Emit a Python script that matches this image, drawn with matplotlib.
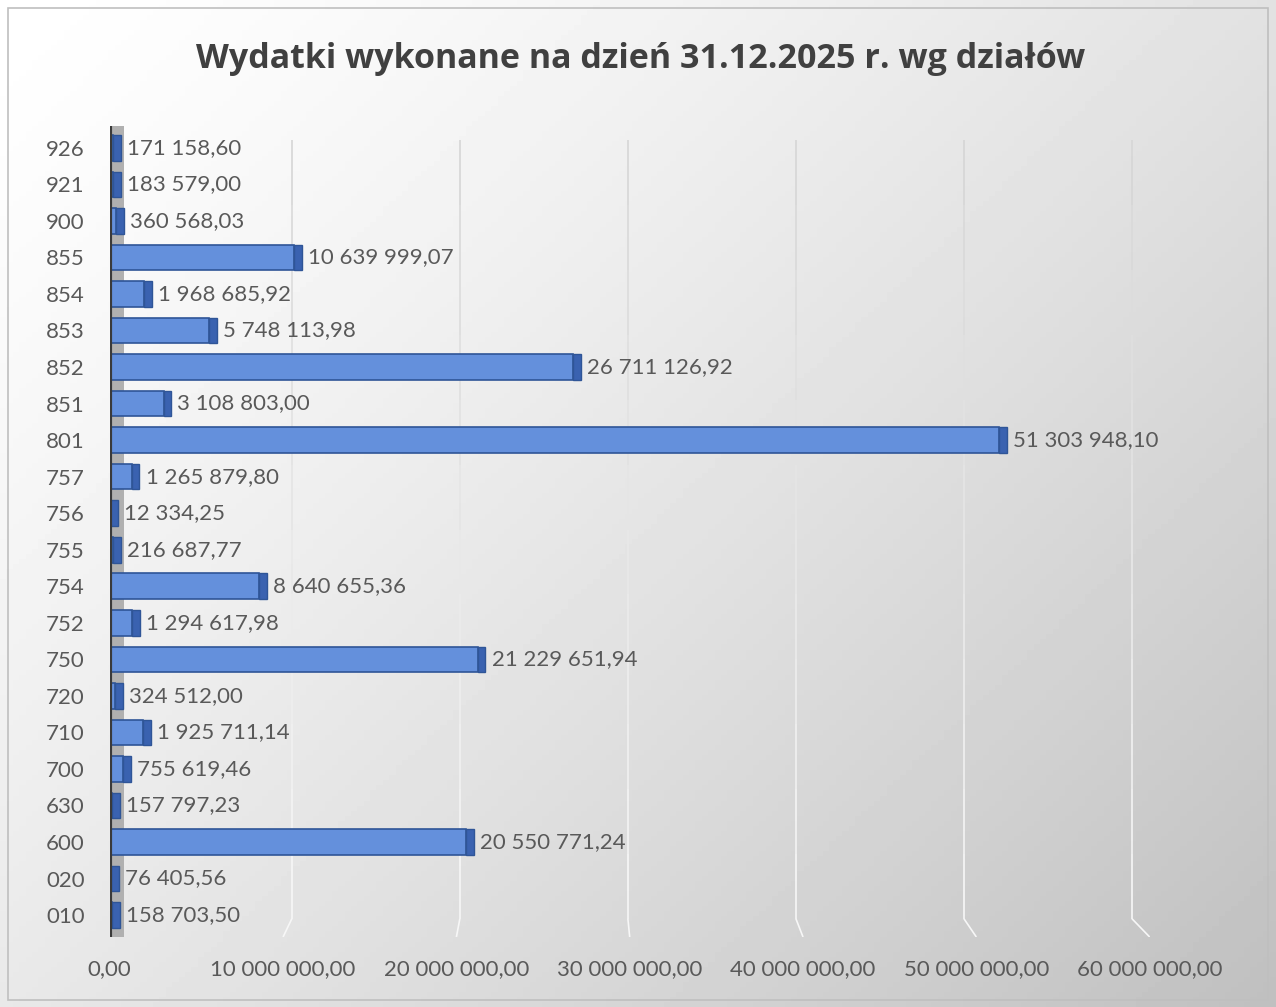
import numpy as np
import matplotlib
matplotlib.use("Agg")
import matplotlib.pyplot as plt
from matplotlib.patches import Rectangle
from matplotlib.collections import LineCollection
import matplotlib.transforms as mtransforms

plt.rcParams['font.family'] = ['Lato', 'DejaVu Sans']

# działy (bottom -> top) and executed expenses
categories = ['010', '020', '600', '630', '700', '710', '720', '750', '752', '754', '755',
              '756', '757', '801', '851', '852', '853', '854', '855', '900', '921', '926']
values = [158703.50, 76405.56, 20550771.24, 157797.23, 755619.46, 1925711.14, 324512.00,
          21229651.94, 1294617.98, 8640655.36, 216687.77, 12334.25, 1265879.80,
          51303948.10, 3108803.00, 26711126.92, 5748113.98, 1968685.92, 10639999.07,
          360568.03, 183579.00, 171158.60]
xticks = [0, 10e6, 20e6, 30e6, 40e6, 50e6, 60e6]
title = 'Wydatki wykonane na dzień 31.12.2025 r. wg działów'


def pl_fmt(v):
    return f"{v:,.2f}".replace(",", " ").replace(".", ",")


fig = plt.figure(figsize=(12.76, 10.07), dpi=100)

# background gradient (white top-left -> grey bottom-right)
bg = fig.add_axes([0, 0, 1, 1], zorder=-10)
yy, xx = np.mgrid[0:1:200j, 0:1:200j]
g = 1.0 - 0.25 * np.clip(0.55 * xx + 0.45 * yy, 0, 1) ** 1.3
bg.imshow(g, cmap='gray', vmin=0, vmax=1, extent=[0, 1, 0, 1], aspect='auto', origin='upper')
bg.add_patch(Rectangle((0.006, 0.007), 0.988, 0.985, fill=False, ec='#bfbfbf', lw=1.2,
                       transform=bg.transAxes))
bg.set_axis_off()

ax = fig.add_axes([0.086, 0.0695, 0.815, 0.8055])
ax.patch.set_alpha(0)
y = np.arange(len(categories))
n = len(categories)
ax.set_xlim(0, 60e6)
ax.set_ylim(-0.6, n - 0.4)

# back wall of the 3D chart: slightly compressed and shifted x scale
to_axes = ax.transScale + ax.transLimits
back = to_axes + mtransforms.Affine2D().scale(0.9695, 1).translate(0.0135, 0) + ax.transAxes
front = to_axes + ax.transAxes
shades = np.linspace(0.84, 0.97, 12)
for t in xticks[1:]:
    ys = np.linspace(n - 0.8, -0.1, 13)
    segs = [[back.transform((t, ys[i])), back.transform((t, ys[i + 1]))] for i in range(12)]
    lc = LineCollection(segs, colors=[str(s) for s in shades], lw=1.2, zorder=1,
                        transform=None)
    ax.add_collection(lc)
    p0 = back.transform((t, -0.1))
    p1 = front.transform((t, -0.6))
    ax.add_collection(LineCollection([[p0, p1]], colors='0.97', lw=1.2, zorder=1,
                                     transform=None))

# side wall
ax.add_patch(Rectangle((0, 0), 0.0135, 1, transform=ax.transAxes, color='#b0b0b0',
                       zorder=1, lw=0))
ax.axvline(0, color='#3a3a3a', lw=3, zorder=5)

cap = 0.45e6
ax.barh(y, values, height=0.7, color='#6490dc', edgecolor='#2f5597', lw=1.2, zorder=3)
ax.barh(y, [cap] * len(values), left=values, height=0.7, color='#3a62b0',
        edgecolor='#2f5597', lw=1.0, zorder=3)

for yi, v in zip(y, values):
    ax.text(v + cap + 0.35e6, yi, pl_fmt(v), va='center', ha='left', fontsize=16,
            color='#595959', zorder=6)

ax.set_yticks(y)
ax.set_yticklabels(categories, fontsize=16, color='#595959')
ax.set_xticks(xticks)
ax.set_xticklabels([pl_fmt(t) for t in xticks], fontsize=16, color='#595959')
ax.tick_params(axis='y', length=0, pad=18)
ax.tick_params(axis='x', length=0, pad=16)
for s in ax.spines.values():
    s.set_visible(False)

fig.text(0.502, 0.941, title, ha='center', va='center', fontsize=24.5, fontweight='bold',
         color='#404040', family=['Open Sans', 'DejaVu Sans'])

fig.savefig('out.png', dpi=100)
